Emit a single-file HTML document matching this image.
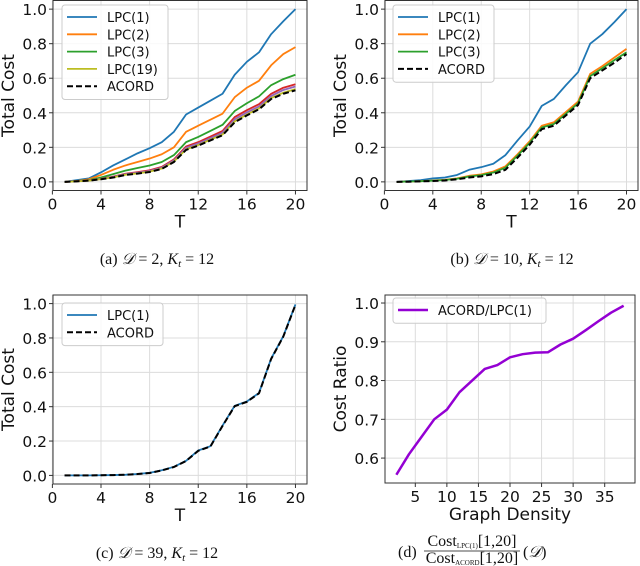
<!DOCTYPE html>
<html><head><meta charset="utf-8"><style>
body{margin:0;background:#fff;width:640px;height:566px;overflow:hidden}
svg{position:absolute;left:0;top:0}
.cap{font-family:"Liberation Serif",serif;font-size:16px;fill:#111}
</style></head><body>
<svg id="s" width="640" height="566">
<text class="cap" x="157" y="264" text-anchor="middle">(a) <tspan font-style="italic">𝒟</tspan> = 2, <tspan font-style="italic">K</tspan><tspan font-size="11" dy="3" font-style="italic">t</tspan><tspan dy="-3"> = 12</tspan></text>
<text class="cap" x="512" y="264" text-anchor="middle">(b) <tspan font-style="italic">𝒟</tspan> = 10, <tspan font-style="italic">K</tspan><tspan font-size="11" dy="3" font-style="italic">t</tspan><tspan dy="-3"> = 12</tspan></text>
<text class="cap" x="157" y="558" text-anchor="middle">(c) <tspan font-style="italic">𝒟</tspan> = 39, <tspan font-style="italic">K</tspan><tspan font-size="11" dy="3" font-style="italic">t</tspan><tspan dy="-3"> = 12</tspan></text>
<g>
<text class="cap" x="398" y="557">(d)</text>
<text class="cap" x="472" y="546" text-anchor="middle" font-size="11">Cost<tspan font-size="7" dy="2">LPC(1)</tspan><tspan dy="-2">[1,20]</tspan></text>
<line x1="424" y1="551" x2="520" y2="551" stroke="#111" stroke-width="0.8"/>
<text class="cap" x="472" y="563" text-anchor="middle" font-size="11">Cost<tspan font-size="7" dy="2">ACORD</tspan><tspan dy="-2">[1,20]</tspan></text>
<text class="cap" x="523" y="557">(<tspan font-style="italic">𝒟</tspan>)</text>
</g>
</svg>
<script>
const T=[1,2,3,4,5,6,7,8,9,10,11,12,13,14,15,16,17,18,19,20];
const yTicks=[0,0.2,0.4,0.6,0.8,1.0];
const xTicks=[0,4,8,12,16,20];
const aLPC1=[0,0.01,0.02,0.055,0.095,0.13,0.165,0.195,0.23,0.29,0.39,0.43,0.47,0.51,0.62,0.695,0.75,0.855,0.93,1.0];
const aLPC2=[0,0.005,0.015,0.04,0.07,0.095,0.115,0.135,0.16,0.2,0.29,0.325,0.36,0.395,0.49,0.545,0.585,0.675,0.74,0.78];
const aLPC3=[0,0.005,0.01,0.025,0.045,0.065,0.08,0.095,0.115,0.155,0.23,0.26,0.295,0.33,0.41,0.455,0.495,0.56,0.595,0.62];
const aLPC4=[0,0.004,0.008,0.018,0.03,0.047,0.056,0.067,0.087,0.13,0.205,0.23,0.262,0.295,0.375,0.415,0.45,0.51,0.545,0.565];
const aLPC5=[0,0.003,0.008,0.017,0.028,0.044,0.053,0.063,0.082,0.124,0.197,0.222,0.253,0.285,0.362,0.402,0.437,0.497,0.532,0.552];
const aLPC19=[0,0.003,0.007,0.016,0.026,0.041,0.049,0.059,0.077,0.118,0.188,0.213,0.244,0.274,0.35,0.39,0.425,0.485,0.516,0.537];
const aACORD=[0,0.003,0.007,0.015,0.025,0.04,0.048,0.057,0.075,0.115,0.185,0.21,0.24,0.27,0.345,0.385,0.42,0.48,0.51,0.53];
const bLPC1=[0,0.005,0.01,0.02,0.025,0.04,0.07,0.085,0.105,0.155,0.24,0.32,0.44,0.48,0.56,0.635,0.8,0.855,0.925,1.0];
const bLPC2=[0,0.002,0.004,0.008,0.012,0.02,0.035,0.043,0.06,0.09,0.16,0.235,0.325,0.345,0.405,0.465,0.625,0.67,0.72,0.77];
const bLPC3=[0,0.002,0.004,0.007,0.011,0.018,0.031,0.039,0.054,0.082,0.152,0.226,0.315,0.335,0.395,0.455,0.612,0.658,0.705,0.75];
const bACORD=[0,0.001,0.003,0.005,0.008,0.015,0.025,0.032,0.045,0.07,0.14,0.215,0.305,0.325,0.385,0.445,0.6,0.645,0.69,0.74];
const cLPC1=[0,0,0,0.001,0.002,0.004,0.008,0.015,0.03,0.05,0.085,0.145,0.17,0.29,0.405,0.43,0.48,0.68,0.81,0.995];
const cACORD=[0,0,0,0.001,0.002,0.004,0.008,0.014,0.029,0.049,0.084,0.143,0.168,0.288,0.403,0.428,0.478,0.678,0.808,0.993];
const dDensity=[2,4,6,8,10,12,14,16,18,20,22,24,26,28,30,32,34,36,38];
const dRatio=[0.557,0.61,0.655,0.7,0.725,0.77,0.8,0.83,0.84,0.86,0.868,0.872,0.873,0.893,0.908,0.93,0.953,0.975,0.993];
const dXTicks=[5,10,15,20,25,30,35];
const dYTicks=[0.6,0.7,0.8,0.9,1.0];

const NS='http://www.w3.org/2000/svg';
const svg=document.getElementById('s');
const F='"DejaVu Sans","Liberation Sans",sans-serif';
function mk(tag,at,parent){const e=document.createElementNS(NS,tag);for(const k in at)e.setAttribute(k,at[k]);(parent||svg).appendChild(e);return e;}

function panel(id,L,R,Tp,B,xmin,xmax,ymin,ymax,xt,yt,xfmt,yfmt,xlabel,ylabel,series,legend){
  const g=mk('g',{});
  
  
  const sx=v=>L+(v-xmin)/(xmax-xmin)*(R-L);
  const sy=v=>B-(v-ymin)/(ymax-ymin)*(B-Tp);
  xt.forEach(v=>{
    const l=mk('line',{x1:sx(v),x2:sx(v),y1:Tp,y2:B,stroke:'#dcdcdc','stroke-width':1},g);
    
    
    mk('line',{x1:sx(v),x2:sx(v),y1:B,y2:B+4,stroke:'#333'},g);
    const t=mk('text',{x:sx(v),y:B+19,'text-anchor':'middle','font-family':F,'font-size':15.5,fill:'#111'},g);
    t.textContent=xfmt(v);
    
    
  });
  yt.forEach(v=>{
    const l=mk('line',{x1:L,x2:R,y1:sy(v),y2:sy(v),stroke:'#dcdcdc','stroke-width':1},g);
    
    
    mk('line',{x1:L-4,x2:L,y1:sy(v),y2:sy(v),stroke:'#333'},g);
    const t=mk('text',{x:L-6,y:sy(v)+6,'text-anchor':'end','font-family':F,'font-size':15.5,fill:'#111'},g);
    t.textContent=yfmt(v);
    
    
  });
  series.forEach(s=>{
    const p=mk('polyline',{points:s.x.map((xv,i)=>sx(xv)+','+sy(s.y[i])).join(' '),fill:'none',stroke:s.c,'stroke-width':s.w||1.8,'stroke-dasharray':s.d||'none','stroke-linejoin':'round'},g);
    
    
  });
  const fr=mk('rect',{x:L,y:Tp,width:R-L,height:B-Tp,fill:'none',stroke:'#333','stroke-width':1},g);
  
  
  const xl=mk('text',{x:(L+R)/2,y:B+37,'text-anchor':'middle','font-family':F,'font-size':17,fill:'#111'},g);
  xl.textContent=xlabel;
  
  
  const cy=(Tp+B)/2, cx=ylabel.x;
  const yl=mk('text',{x:cx,y:cy,'text-anchor':'middle','font-family':F,'font-size':17,fill:'#111',transform:'rotate(-90 '+cx+' '+cy+')'},g);
  yl.textContent=ylabel.t;
  
  
  const lg=mk('g',{},g);
  
  
  mk('rect',{x:legend.x,y:legend.y,width:legend.w,height:legend.items.length*17.3+8,rx:3,fill:'#fff','fill-opacity':0.85,stroke:'#ccc'},lg);
  legend.items.forEach((it,i)=>{
    const yy=legend.y+12+i*17.3;
    mk('line',{x1:legend.x+5,x2:legend.x+35,y1:yy,y2:yy,stroke:it.c,'stroke-width':it.w||1.8,'stroke-dasharray':it.d||'none'},lg);
    const t=mk('text',{x:legend.x+45,y:yy+5,'font-family':F,'font-size':13,fill:'#111'},lg);
    t.textContent=it.n;
    
    
  });
}
const f1=v=>v.toFixed(1), f0=v=>String(v);
const BL='#1f77b4',OR='#ff7f0e',GR='#2ca02c',YL='#bcbd22',RD='#d62728',PU='#9467bd';
panel('a',53,307,0.5,190.5,0.05,20.95,-0.05,1.05,xTicks,yTicks,f0,f1,'T',{x:14,t:'Total Cost'},[
 {n:'lpc1',x:T,y:aLPC1,c:BL},{n:'lpc2',x:T,y:aLPC2,c:OR},{n:'lpc3',x:T,y:aLPC3,c:GR},
 {n:'lpc4',x:T,y:aLPC4,c:RD},{n:'lpc5',x:T,y:aLPC5,c:PU},{n:'lpc19',x:T,y:aLPC19,c:YL},
 {n:'acord',x:T,y:aACORD,c:'#000',d:'6 3',w:2}],
 {x:62,y:5,w:106,items:[{n:'LPC(1)',c:BL},{n:'LPC(2)',c:OR},{n:'LPC(3)',c:GR},{n:'LPC(19)',c:YL},{n:'ACORD',c:'#000',d:'6 3',w:2}]});
panel('b',385,638,0.5,190.5,0.05,20.95,-0.05,1.05,xTicks,yTicks,f0,f1,'T',{x:346,t:'Total Cost'},[
 {n:'lpc1',x:T,y:bLPC1,c:BL},{n:'lpc2',x:T,y:bLPC2,c:OR},{n:'lpc3',x:T,y:bLPC3,c:GR},
 {n:'acord',x:T,y:bACORD,c:'#000',d:'6 3',w:2}],
 {x:393,y:5,w:101,items:[{n:'LPC(1)',c:BL},{n:'LPC(2)',c:OR},{n:'LPC(3)',c:GR},{n:'ACORD',c:'#000',d:'6 3',w:2}]});
panel('c',53,307,295,484,0.05,20.95,-0.05,1.05,xTicks,yTicks,f0,f1,'T',{x:14,t:'Total Cost'},[
 {n:'lpc1',x:T,y:cLPC1,c:BL},{n:'acord',x:T,y:cACORD,c:'#000',d:'6 3',w:2}],
 {x:62,y:303,w:101,items:[{n:'LPC(1)',c:BL},{n:'ACORD',c:'#000',d:'6 3',w:2}]});
panel('d',385,635,295,483,0.2,39.8,0.5357,1.0207,dXTicks,dYTicks,f0,f1,'Graph Density',{x:346,t:'Cost Ratio'},[
 {n:'acord-lpc1-ratio',x:dDensity,y:dRatio,c:'#9400d3',w:2.5}],
 {x:393,y:298,w:153,items:[{n:'ACORD/LPC(1)',c:'#9400d3',w:2.5}]});
</script>
</body></html>
